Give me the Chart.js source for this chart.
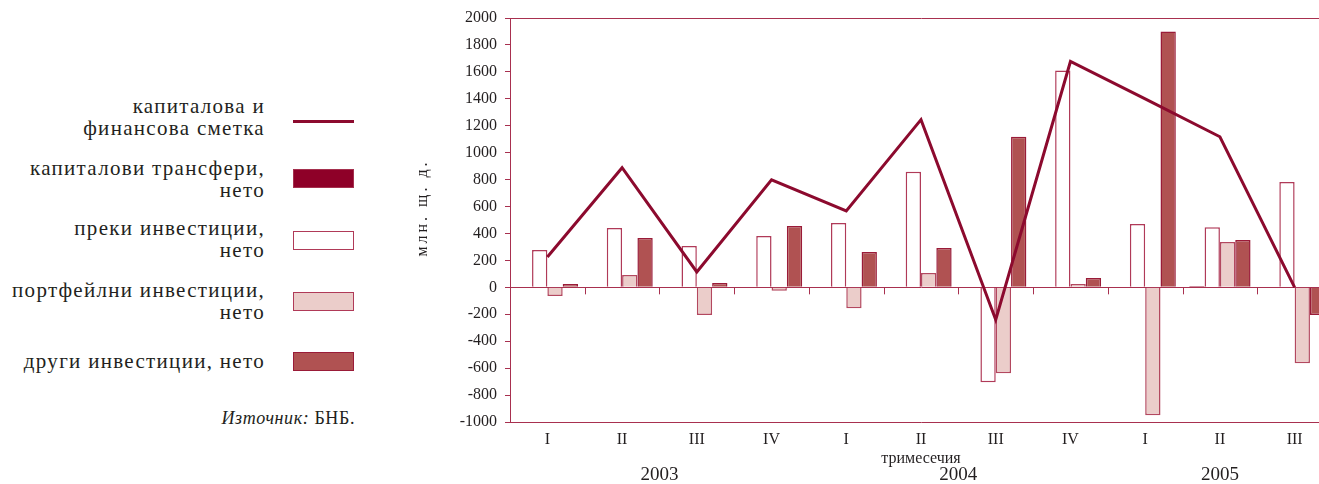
<!DOCTYPE html>
<html lang="bg">
<head>
<meta charset="utf-8">
<script src="https://cdn.jsdelivr.net/npm/chart.js@4"></script>
<style>
  html, body { margin: 0; padding: 0; background: #fff; overflow: hidden; }
  body { width: 1319px; height: 484px; position: relative; font-family: 'Liberation Serif', serif; color: #231f20; }
  #chartWrap { position: absolute; left: 410px; top: 0; width: 930px; height: 484px; }
  .legend-text { position: absolute; right: calc(1319px - 265px); text-align: right; font-size: 21px; line-height: 22px; letter-spacing: 1.3px; white-space: nowrap; }
  .swatch { position: absolute; left: 293px; width: 61px; box-sizing: border-box; }
  .source { position: absolute; right: calc(1319px - 355px); top: 407px; font-size: 18px; line-height: 22px; letter-spacing: 0.6px; }
</style>
</head>
<body>

<div class="legend-text" style="top:95px">капиталова и<br>финансова сметка</div>
<div class="swatch" style="top:120px;height:3px;background:#8c0a2e"></div>

<div class="legend-text" style="top:157px">капиталови трансфери,<br>нето</div>
<div class="swatch" style="top:169px;height:19px;background:#8e0028;border:1px solid #a5304e"></div>

<div class="legend-text" style="top:217px">преки инвестиции,<br>нето</div>
<div class="swatch" style="top:231px;height:19px;background:#fff;border:1.5px solid #b03a58"></div>

<div class="legend-text" style="top:279px">портфейлни инвестиции,<br>нето</div>
<div class="swatch" style="top:292px;height:19px;background:#ebcdca;border:1.5px solid #b03a58"></div>

<div class="legend-text" style="top:350px">други инвестиции, нето</div>
<div class="swatch" style="top:352px;height:19px;background:#b05252;border:1.5px solid #9a1b38"></div>

<div class="source"><i>Източник:</i> БНБ.</div>

<div id="chartWrap"><canvas id="chart"></canvas></div>

<script>
const AXIS = '#a8304f';
const TEXT = '#231f20';

const quarters = ['I', 'II', 'III', 'IV', 'I', 'II', 'III', 'IV', 'I', 'II', 'III'];
const years = ['2003', '2004', '2005'];
const yearStart = [0, 4, 8];
const yearEnd = [3, 7, 10];

// млн. щ. д.
const capitalFinancial = [225, 888, 114, 798, 568, 1245, -240, 1677, 1400, 1118, 0];
const capitalTransfers = [0, 0, 0, 0, 0, 0, 0, 0, 0, 10, 0];
const directInvest = [277, 441, 307, 382, 478, 858, -704, 1610, 471, 447, 783];
const portfolioInvest = [-65, 92, -206, -25, -155, 106, -638, 25, -950, 337, -563];
const otherInvest = [25, 367, 32, 456, 263, 292, 1118, 69, 1900, 352, -206];

const yMin = -1000;
const yMax = 2000;
const yStep = 200;
const yTitle = 'млн. щ. д.';

const extraLabels = {
  id: 'extraLabels',
  afterDraw(chart) {
    const { ctx, scales: { x, y } } = chart;
    const y0 = y.getPixelForValue(0);
    ctx.save();
    // short ticks between quarters, hanging from the zero line
    ctx.strokeStyle = AXIS;
    ctx.lineWidth = 1;
    for (let i = 0; i < quarters.length - 1; i++) {
      const bx = Math.round((x.getPixelForValue(i) + x.getPixelForValue(i + 1)) / 2) + 0.5;
      ctx.beginPath();
      ctx.moveTo(bx, y0);
      ctx.lineTo(bx, y0 + 7);
      ctx.stroke();
    }
    // years under their quarters
    ctx.fillStyle = TEXT;
    ctx.font = '19px "Liberation Serif"';
    ctx.textAlign = 'center';
    ctx.textBaseline = 'middle';
    years.forEach((yr, i) => {
      const cx = (x.getPixelForValue(yearStart[i]) + x.getPixelForValue(yearEnd[i])) / 2;
      ctx.fillText(yr, cx, chart.chartArea.bottom + 53);
    });
    // rotated unit title, letter-spaced like the original
    ctx.translate(y.left + 13, 208);
    ctx.rotate(-Math.PI / 2);
    ctx.font = '16px "Liberation Serif"';
    ctx.letterSpacing = '3px';
    ctx.fillText(yTitle, 0, 0);
    ctx.restore();
  },
};

new Chart(document.getElementById('chart'), {
  data: {
    labels: quarters,
    datasets: [
      {
        type: 'line',
        label: 'капиталова и финансова сметка',
        data: capitalFinancial,
        borderColor: '#8c0a2e',
        borderWidth: 3,
        pointRadius: 0,
        tension: 0,
        order: 0,
      },
      {
        type: 'bar',
        label: 'капиталови трансфери, нето',
        data: capitalTransfers,
        backgroundColor: '#8e0028',
        borderColor: '#a5304e',
        borderWidth: 1,
        order: 1,
      },
      {
        type: 'bar',
        label: 'преки инвестиции, нето',
        data: directInvest,
        backgroundColor: '#ffffff',
        borderColor: '#b03a58',
        borderWidth: 1.5,
        order: 1,
      },
      {
        type: 'bar',
        label: 'портфейлни инвестиции, нето',
        data: portfolioInvest,
        backgroundColor: '#ebcdca',
        borderColor: '#b3485f',
        borderWidth: 1.5,
        order: 1,
      },
      {
        type: 'bar',
        label: 'други инвестиции, нето',
        data: otherInvest,
        backgroundColor: '#b05252',
        borderColor: '#9a1b38',
        borderWidth: 1.5,
        order: 1,
      },
    ],
  },
  options: {
    responsive: true,
    maintainAspectRatio: false,
    animation: false,
    layout: { padding: { left: 0, right: 8, top: 18, bottom: 0 } },
    datasets: {
      bar: { categoryPercentage: 0.82, barPercentage: 1.0, borderSkipped: 'start' },
    },
    plugins: {
      legend: { display: false },
      tooltip: { enabled: false },
    },
    scales: {
      x: {
        type: 'category',
        offset: true,
        grid: { display: false, drawTicks: false },
        border: { display: true, color: AXIS, width: 1 },
        ticks: {
          color: TEXT,
          padding: 8,
          font: { family: 'Liberation Serif', size: 16 },
          maxRotation: 0,
          autoSkip: false,
        },
        title: {
          display: true,
          text: 'тримесечия',
          color: TEXT,
          font: { family: 'Liberation Serif', size: 16 },
          padding: { top: 0, bottom: 16 },
        },
        afterFit(scale) { scale.height = 62; },
      },
      y: {
        min: yMin,
        max: yMax,
        ticks: {
          stepSize: yStep,
          color: TEXT,
          padding: 8,
          font: { family: 'Liberation Serif', size: 16 },
          callback: (v) => String(v),
        },
        grid: {
          drawOnChartArea: true,
          color: (c) => (c.tick && (c.tick.value === 0 || c.tick.value === yMax) ? AXIS : 'rgba(0,0,0,0)'),
          tickColor: AXIS,
          tickLength: 5,
          lineWidth: 1,
        },
        border: { display: true, color: AXIS, width: 1 },
        afterFit(scale) { scale.width = 100; },
      },
    },
  },
  plugins: [extraLabels],
});
</script>
</body>
</html>
